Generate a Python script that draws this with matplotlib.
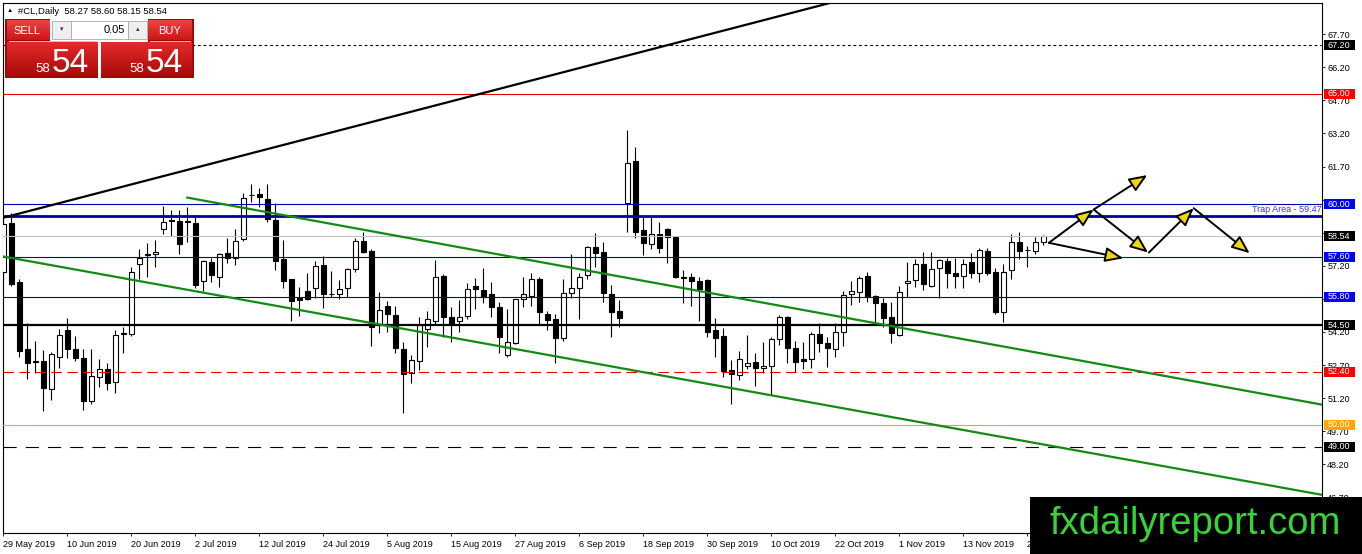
import numpy as np
import matplotlib
matplotlib.use("Agg")
import matplotlib.pyplot as plt
from matplotlib.patches import Rectangle
import matplotlib.transforms as mtransforms

# ---------------- data ----------------
opens = [56.9, 59.15, 56.48, 53.43, 52.9, 52.88, 51.63, 53.08, 54.29, 53.43,
         53.03, 51.05, 52.17, 52.5, 51.92, 54.15, 54.09, 57.27, 57.7, 57.72,
         58.85, 59.27, 59.23, 59.24, 59.15, 56.51, 57.36, 56.7, 57.77, 57.54,
         58.4, 60.4, 60.44, 60.23, 59.27, 57.51, 56.6, 55.75, 56.06, 56.18,
         57.23, 55.94, 55.91, 56.18, 57.04, 58.32, 57.87, 54.55, 55.38, 54.97,
         53.43, 52.33, 52.88, 54.32, 54.71, 56.75, 54.89, 54.71, 54.94, 56.28,
         56.1, 55.92, 55.32, 53.16, 53.71, 55.68, 55.84, 56.59, 55.01, 54.77,
         53.91, 55.95, 56.18, 56.78, 58.04, 57.84, 55.92, 55.16, 60.03, 61.93,
         58.82, 58.17, 58.63, 58.85, 58.49, 56.68, 56.7, 56.51, 56.56, 54.29,
         54.02, 52.47, 52.24, 52.67, 52.82, 52.55, 52.67, 53.87, 54.89, 53.49,
         52.97, 52.96, 54.1, 53.71, 53.41, 54.21, 55.91, 56.02, 56.74, 55.83,
         55.53, 54.89, 54.06, 56.41, 56.56, 57.27, 56.28, 57.09, 57.42, 56.86,
         56.75, 57.36, 56.89, 57.87, 56.9, 55.09, 57.01, 58.29, 57.9, 57.88,
         58.27]
highs = [59.4, 59.6, 56.6, 54.6, 53.8, 53.4, 53.28, 54.33, 54.85, 54.03,
         53.43, 53.41, 52.97, 52.78, 54.29, 54.44, 57.13, 57.96, 58.25, 58.37,
         59.9, 59.73, 59.73, 59.85, 59.5, 57.45, 57.54, 57.79, 58.47, 58.87,
         60.49, 60.89, 60.71, 60.89, 60.03, 58.37, 56.62, 56.25, 56.86, 57.42,
         57.66, 56.96, 56.54, 57.11, 58.47, 58.72, 57.96, 56.0, 55.6, 55.39,
         53.73, 53.16, 54.9, 55.14, 57.46, 56.83, 55.34, 55.65, 56.41, 56.63,
         57.11, 56.45, 55.57, 55.23, 55.7, 56.68, 56.86, 56.7, 55.16, 55.0,
         56.59, 57.73, 56.89, 58.1, 58.7, 58.26, 56.33, 55.65, 63.35, 62.6,
         59.42, 59.42, 59.17, 58.9, 58.56, 57.01, 56.86, 56.7, 56.58, 54.82,
         54.37, 52.93, 53.34, 54.06, 53.26, 53.76, 53.98, 54.97, 54.92, 53.79,
         53.76, 54.18, 54.59, 53.98, 54.62, 56.07, 56.51, 56.75, 56.9, 55.87,
         55.73, 55.54, 56.28, 57.38, 57.49, 57.81, 57.84, 57.5, 57.54, 57.54,
         57.49, 57.77, 57.99, 57.99, 57.08, 57.27, 58.64, 58.72, 58.11, 58.52,
         58.60]
lows = [56.6, 56.28, 53.05, 52.07, 52.35, 50.6, 51.12, 52.58, 53.03, 52.88,
        50.66, 50.93, 51.69, 51.57, 51.45, 53.26, 54.0, 56.6, 56.7, 57.16,
        58.63, 58.56, 57.72, 58.29, 56.18, 56.06, 56.45, 56.25, 57.31, 57.23,
        58.32, 60.1, 59.88, 59.2, 57.01, 56.18, 54.7, 54.94, 55.65, 55.73,
        55.3, 55.8, 55.7, 55.8, 56.93, 57.8, 53.58, 54.14, 54.21, 53.23,
        50.51, 51.9, 52.47, 53.53, 54.51, 53.98, 53.76, 54.21, 54.79, 55.23,
        55.53, 54.86, 53.23, 53.08, 53.65, 55.32, 55.39, 54.56, 54.29, 52.81,
        53.8, 55.73, 54.79, 56.59, 57.16, 55.57, 53.98, 54.41, 58.75, 58.45,
        57.69, 57.96, 57.77, 57.34, 56.63, 55.53, 55.38, 54.7, 53.96, 53.05,
        52.14, 50.93, 52.02, 52.53, 51.76, 52.33, 51.34, 53.6, 52.78, 52.4,
        52.5, 52.55, 53.3, 52.63, 53.05, 53.56, 55.42, 55.57, 55.57, 54.62,
        54.41, 53.71, 54.0, 55.8, 56.25, 56.1, 56.25, 55.73, 56.21, 56.18,
        56.18, 56.63, 56.48, 56.78, 55.01, 54.67, 56.59, 57.49, 57.16, 57.73,
        58.15]
closes = [59.1, 56.37, 53.35, 52.81, 52.85, 51.67, 53.2, 54.06, 53.41, 53.03,
          51.05, 52.2, 52.5, 51.9, 54.06, 54.1, 56.9, 57.57, 57.74, 57.82,
          59.17, 59.25, 58.17, 59.17, 56.33, 57.42, 56.78, 57.72, 57.54, 58.32,
          60.26, 60.42, 60.33, 59.32, 57.42, 56.51, 55.6, 55.65, 55.68, 57.2,
          55.91, 55.9, 56.13, 57.04, 58.32, 57.84, 54.44, 55.19, 55.0, 53.46,
          52.28, 52.93, 54.5, 54.77, 56.68, 54.89, 54.56, 54.89, 56.13, 56.13,
          55.8, 55.34, 53.96, 53.76, 55.68, 55.91, 56.59, 55.12, 54.74, 53.91,
          55.95, 56.18, 56.7, 58.04, 57.79, 55.95, 55.09, 54.82, 61.84, 58.74,
          58.22, 58.63, 57.99, 58.49, 56.7, 56.64, 56.52, 56.15, 54.21, 53.94,
          52.44, 52.29, 52.96, 52.78, 52.55, 52.66, 53.88, 54.86, 53.46, 52.85,
          52.9, 54.1, 53.68, 53.46, 54.18, 55.87, 56.06, 56.63, 55.8, 55.5,
          54.82, 54.13, 56.02, 56.51, 57.27, 56.36, 57.04, 57.46, 56.89, 56.75,
          57.27, 56.86, 57.91, 56.86, 55.12, 56.9, 58.29, 57.88, 57.92, 58.29,
          58.54]

date_tick_bars = [0, 8, 16, 24, 32, 40, 48, 56, 64, 72, 80, 88, 96, 104, 112, 120, 128]
date_labels = ["29 May 2019", "10 Jun 2019", "20 Jun 2019", "2 Jul 2019", "12 Jul 2019",
               "24 Jul 2019", "5 Aug 2019", "15 Aug 2019", "27 Aug 2019", "6 Sep 2019",
               "18 Sep 2019", "30 Sep 2019", "10 Oct 2019", "22 Oct 2019", "1 Nov 2019",
               "13 Nov 2019", "25 Nov 2019"]
price_ticks = [46.70, 48.20, 49.70, 51.20, 52.70, 54.20, 55.70, 57.20, 58.70,
               60.20, 61.70, 63.20, 64.70, 66.20, 67.70]
hidden_tick_labels = [55.70, 58.70, 60.20]   # fully covered by price boxes

# horizontal levels
level_values = [67.20, 65.00, 60.00, 59.47, 58.54, 57.60, 55.80, 54.50, 52.40, 50.00, 49.00]
level_kinds = ["dot", "red", "blue", "trap", "price", "blue", "blue", "black", "reddash", "orange", "blackdash"]
# right-axis price boxes
box_values = [67.20, 65.00, 60.00, 58.54, 57.60, 55.80, 54.50, 52.40, 50.00, 49.00]
box_kinds = ["black", "red", "blue", "black", "blue", "blue", "black", "red", "orange", "black"]

# trend lines (bar index, price)
black_trend = [(0, 59.38), (100, 68.80)]
green_upper = [(23, 60.29), (130, 53.21)]
green_lower = [(0, 57.62), (130, 49.10)]

# scenario arrows (bar index, price)
arrow_paths = [((130.7, 58.24), (136.3, 59.75)),
               ((136.3, 59.75), (143.0, 61.31)),
               ((136.3, 59.75), (143.1, 57.80)),
               ((143.2, 57.80), (148.8, 59.81)),
               ((148.8, 59.81), (155.8, 57.77)),
               ((130.7, 58.24), (140.0, 57.54))]

trap_label = "Trap Area - 59.47"
symbol = "#CL,Daily"
lot_size = "0.05"

# ---------------- style ----------------
plt.rcParams['font.family'] = ['Liberation Sans', 'DejaVu Sans']
plt.rcParams['lines.scale_dashes'] = False

W, H = 1362, 554
fig = plt.figure(figsize=(W / 100, H / 100), dpi=100)
fig.patch.set_facecolor('white')
ax = fig.add_axes([3 / W, 21 / H, 1319 / W, 530 / H])
ax.set_facecolor('white')
ax.set_xlim(-0.0375, 164.84)
ax.set_ylim(45.086, 69.112)

o = np.array(opens); h = np.array(highs); l = np.array(lows); c = np.array(closes)
x = np.arange(len(o))
up = c >= o
ax.vlines(x, l, h, color='black', lw=0.8, zorder=2)
ax.bar(x, np.abs(c - o), bottom=np.minimum(o, c), width=0.56,
       color=np.where(up, 'white', 'black'), edgecolor='black', linewidth=0.8, zorder=3)

style = {
    "dot": dict(color='black', lw=0.8, ls=(0, (2.0, 2.0))),
    "red": dict(color='#E00000', lw=0.8, ls='-'),
    "blue": dict(color='#0000B4', lw=0.8, ls='-'),
    "trap": dict(color='#0000A8', lw=2.0, ls='-'),
    "price": dict(color='#C0C0C0', lw=0.8, ls='-'),
    "black": dict(color='black', lw=1.6, ls='-'),
    "reddash": dict(color='#E00000', lw=0.8, ls=(0, (7.5, 4.0))),
    "orange": dict(color='#FFA500', lw=0.8, ls='-'),
    "blackdash": dict(color='black', lw=0.8, ls=(0, (9.5, 6.5))),
}
for v, k in zip(level_values, level_kinds):
    ax.axhline(v, zorder=4, **style[k])

# trend lines
ax.axline(black_trend[0], black_trend[1], color='black', lw=1.6, zorder=4)
ax.axline(green_lower[0], green_lower[1], color='#138A13', lw=1.6, zorder=4)
(gx0, gy0), (gx1, gy1) = green_upper
slope = (gy1 - gy0) / (gx1 - gx0)
xr = ax.get_xlim()[1]
ax.plot([gx0, xr], [gy0, gy0 + slope * (xr - gx0)], color='#138A13', lw=1.6, zorder=4)

# arrows
for (s, e) in arrow_paths:
    ax.annotate('', xy=e, xytext=s, zorder=6,
                arrowprops=dict(arrowstyle='-|>,head_length=1.1,head_width=0.45',
                                mutation_scale=10, fc='#F2D40F', ec='black', lw=1.4,
                                shrinkA=0, shrinkB=0))

# trap label
blend = mtransforms.blended_transform_factory(ax.transAxes, ax.transData)
ax.text(0.9995, 59.47 + 0.07, trap_label, transform=blend, ha='right', va='bottom',
        fontsize=6.5, color='#3434D0', zorder=6)

# axes / ticks
for sp in ax.spines.values():
    sp.set_color('black'); sp.set_linewidth(0.8)
ax.yaxis.tick_right()
ax.set_yticks(price_ticks)
ax.set_yticklabels(["" if v in hidden_tick_labels else f"{v:.2f}" for v in price_ticks])
ax.tick_params(axis='y', length=2.2, width=0.6, pad=1.6, labelsize=6.5, colors='black')
ax.set_xticks(date_tick_bars)
ax.set_xticklabels(date_labels, ha='left')
ax.tick_params(axis='x', length=2.2, width=0.6, pad=2.6, labelsize=6.5)

box_colors = {"black": "black", "red": "#FF0000", "blue": "#0000FF", "orange": "#FFA500"}
bw = 31 / 1319
bx = (1324 - 3) / 1319
tx = (1328 - 3) / 1319
bh = 10 / 22.06
for v, k in zip(box_values, box_kinds):
    ax.add_patch(Rectangle((bx, v - bh / 2), bw, bh, transform=blend, clip_on=False,
                           facecolor=box_colors[k], edgecolor='none', zorder=7))
    ax.text(tx, v, f"{v:.2f}", transform=blend, clip_on=False, ha='left', va='center',
            fontsize=6.5, color='white', zorder=8)

# ---------------- overlay (pixel coordinates) ----------------
ov = fig.add_axes([0, 0, 1, 1], zorder=10)
ov.patch.set_alpha(0)


def grad(x0, y0, x1, y1, ctop, cbot):
    ct = np.array(matplotlib.colors.to_rgb(ctop)); cb = np.array(matplotlib.colors.to_rgb(cbot))
    t = np.linspace(0, 1, 40)[:, None, None]
    arr = ct[None, None, :] * (1 - t) + cb[None, None, :] * t
    ov.imshow(arr, extent=(x0, x1, y1, y0), aspect='auto', origin='upper', zorder=2, interpolation='bilinear')


# header
ov.text(7, 11, "\u25B2", fontsize=4.5, va='center', ha='left', color='black')
ov.text(18, 11, f"{symbol}  {opens[-1]:.2f} {highs[-1]:.2f} {lows[-1]:.2f} {closes[-1]:.2f}",
        fontsize=6.8, va='center', ha='left', color='black')

# trade panel
ov.add_patch(Rectangle((5, 19), 189, 59, facecolor='#9A0A0A', edgecolor='none', zorder=1))
ov.add_patch(Rectangle((50, 19), 98, 23, facecolor='white', edgecolor='none', zorder=1.5))
grad(7, 20, 50, 40, '#EE4444', '#CC1616')
grad(148, 20, 192, 40, '#EE4444', '#CC1616')
grad(7, 42, 98, 77, '#E42A2A', '#A80A0A')
grad(101, 42, 192, 77, '#E42A2A', '#A80A0A')
ov.add_patch(Rectangle((98, 41), 3, 37, facecolor='white', edgecolor='none', zorder=3))
ov.plot([9, 96], [41.3, 41.3], color='#F6B0B0', lw=0.7, zorder=3)
ov.plot([150, 190], [41.3, 41.3], color='#F6B0B0', lw=0.7, zorder=3)
ov.add_patch(Rectangle((52, 21), 19, 18, facecolor='#EFEFEF', edgecolor='#A8A8A8', lw=0.6, zorder=3))
ov.add_patch(Rectangle((71, 21), 57, 18, facecolor='white', edgecolor='#A8A8A8', lw=0.6, zorder=3))
ov.add_patch(Rectangle((128, 21), 19, 18, facecolor='#EFEFEF', edgecolor='#A8A8A8', lw=0.6, zorder=3))
ov.text(61.5, 30, "\u25BE", fontsize=5, ha='center', va='center', color='#333333', zorder=4)
ov.text(137.5, 30, "\u25B4", fontsize=5, ha='center', va='center', color='#333333', zorder=4)
ov.text(125, 30, lot_size, fontsize=8, ha='right', va='center', color='black', zorder=4)
ov.text(27, 30.5, "SELL", fontsize=8, ha='center', va='center', color='white', zorder=4)
ov.text(170, 30.5, "BUY", fontsize=8, ha='center', va='center', color='white', zorder=4)
bid_big = f"{closes[-1]:.2f}".split(".")
ov.text(35.5, 71.5, bid_big[0], fontsize=9.5, ha='left', va='baseline', color='white', zorder=4)
ov.text(52, 71.5, bid_big[1], fontsize=24, ha='left', va='baseline', color='white', zorder=4)
ov.text(129.5, 71.5, bid_big[0], fontsize=9.5, ha='left', va='baseline', color='white', zorder=4)
ov.text(146, 71.5, bid_big[1], fontsize=24, ha='left', va='baseline', color='white', zorder=4)

# watermark
ov.add_patch(Rectangle((1030, 497), 332, 57, facecolor='black', edgecolor='none', zorder=5))
ov.text(1195, 524, "fxdailyreport.com", fontsize=27.5, ha='center', va='center',
        color='#36D436', zorder=6)

ov.set_xlim(0, W)
ov.set_ylim(H, 0)
ov.axis('off')

fig.savefig("out.png", dpi=100)
